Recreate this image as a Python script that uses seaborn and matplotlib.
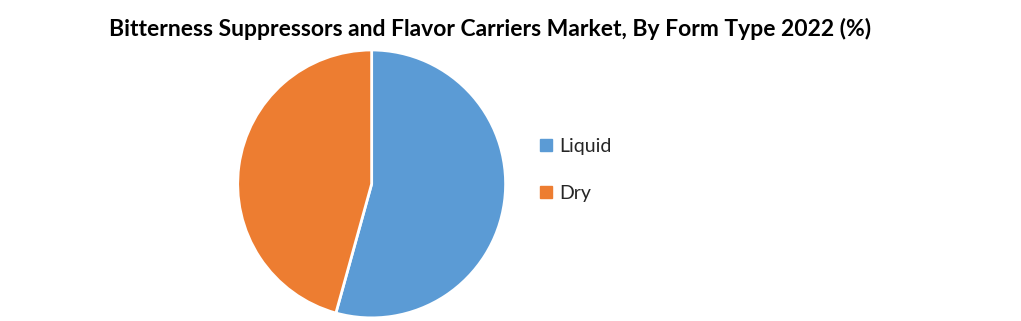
import matplotlib
matplotlib.use("Agg")
import matplotlib.pyplot as plt
import seaborn as sns
from matplotlib.lines import Line2D

labels = ["Liquid", "Dry"]
values = [54.3, 45.7]
colors = ["#5B9BD5", "#ED7D31"]
title = "Bitterness Suppressors and Flavor Carriers Market, By Form Type 2022 (%)"

sns.set_theme(style="white")
plt.rcParams['font.family'] = ['Lato', 'DejaVu Sans']

fig = plt.figure(figsize=(10.21, 3.21), dpi=100)
fig.patch.set_facecolor("white")
ax = fig.add_axes([0.364 - 0.1312, 0.427 - 0.4175, 0.2624, 0.835])
ax.pie(values, colors=colors, startangle=90, counterclock=False,
       wedgeprops=dict(edgecolor="white", linewidth=2))
ax.set_xlim(-1.0, 1.0)
ax.set_ylim(-1.0, 1.0)
ax.set_aspect("equal")

fig.text(0.48, 0.91, title, ha="center", va="center", fontsize=16.5, fontweight="bold", color="black")

handles = [Line2D([0], [0], marker="s", linestyle="none", markersize=8,
                  markerfacecolor=c, markeredgecolor=c) for c in colors]
fig.legend(handles, labels, loc="center left", bbox_to_anchor=(0.510, 0.47),
           frameon=False, fontsize=14, labelspacing=1.55, handletextpad=0.3,
           handlelength=0.8)

fig.savefig("out.png", dpi=100, facecolor="white")
